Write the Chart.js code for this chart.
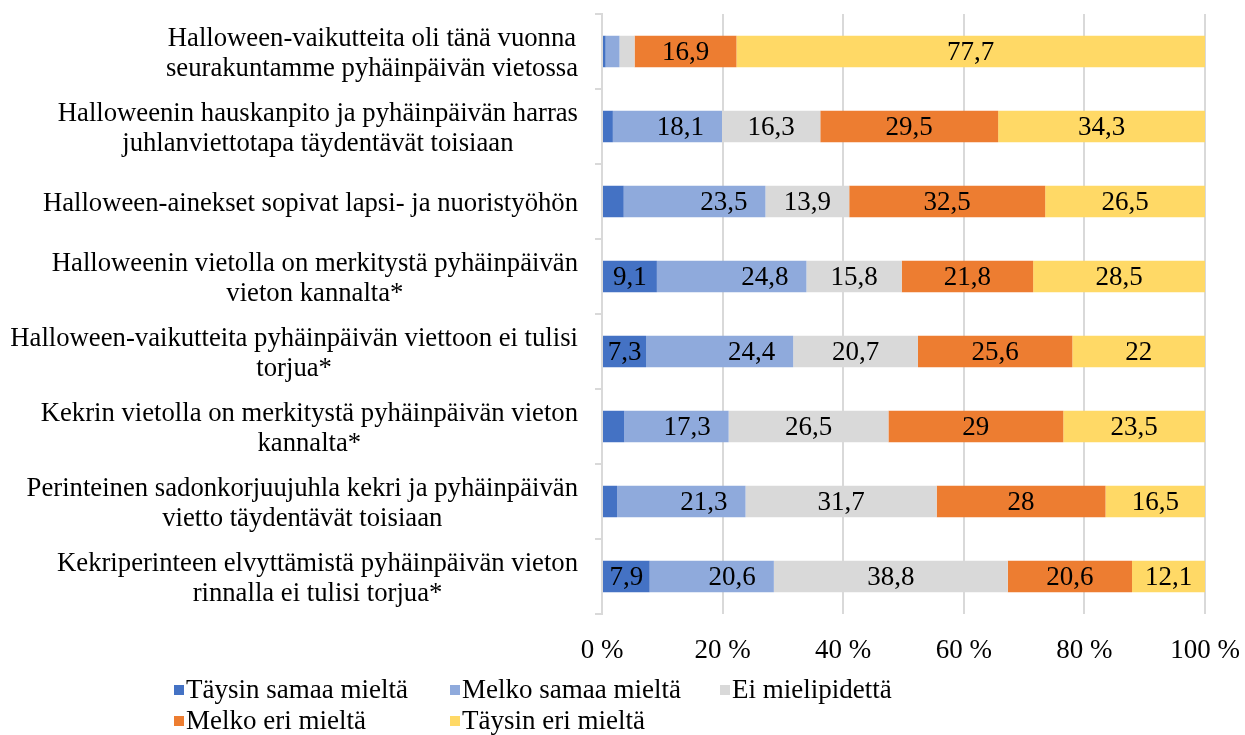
<!DOCTYPE html>
<html><head><meta charset="utf-8">
<script src="https://cdn.jsdelivr.net/npm/chart.js@4/dist/chart.umd.min.js"></script>
<style>html,body{margin:0;padding:0;background:#fff;}#wrap{width:1245px;height:735px;}</style>
</head><body><div id="wrap"><canvas id="c" width="1245" height="735"></canvas></div>
<script>
const categories = [
  ["Halloween-vaikutteita oli tänä vuonna", "seurakuntamme pyhäinpäivän vietossa"],
  ["Halloweenin hauskanpito ja pyhäinpäivän harras", "juhlanviettotapa täydentävät toisiaan"],
  ["Halloween-ainekset sopivat lapsi- ja nuoristyöhön"],
  ["Halloweenin vietolla on merkitystä pyhäinpäivän", "vieton kannalta*"],
  ["Halloween-vaikutteita pyhäinpäivän viettoon ei tulisi", "torjua*"],
  ["Kekrin vietolla on merkitystä pyhäinpäivän vieton", "kannalta*"],
  ["Perinteinen sadonkorjuujuhla kekri ja pyhäinpäivän", "vietto täydentävät toisiaan"],
  ["Kekriperinteen elvyttämistä pyhäinpäivän vieton", "rinnalla ei tulisi torjua*"]
];
const seriesNames = ["Täysin samaa mieltä", "Melko samaa mieltä", "Ei mielipidettä", "Melko eri mieltä", "Täysin eri mieltä"];
const taysinSamaa   = [0.6, 1.8, 3.6, 9.1, 7.3, 3.7, 2.5, 7.9];
const melkoSamaa    = [2.3, 18.1, 23.5, 24.8, 24.4, 17.3, 21.3, 20.6];
const eiMielipidetta = [2.5, 16.3, 13.9, 15.8, 20.7, 26.5, 31.7, 38.8];
const melkoEri      = [16.9, 29.5, 32.5, 21.8, 25.6, 29, 28, 20.6];
const taysinEri     = [77.7, 34.3, 26.5, 28.5, 22, 23.5, 16.5, 12.1];
const xTicks = [0, 20, 40, 60, 80, 100];

const colors = ['#4472C4', '#8FAADC', '#D9D9D9', '#ED7D31', '#FFD966'];
const FONT = '"Liberation Serif", "Times New Roman", serif';
const seriesValues = [taysinSamaa, melkoSamaa, eiMielipidetta, melkoEri, taysinEri];

const datasets = seriesValues.map((vals, i) => ({
  label: seriesNames[i],
  data: vals,
  backgroundColor: colors[i],
  borderWidth: 0,
  barPercentage: 0.42,
  categoryPercentage: 1,
  labelMin: 5,
  labelAnchor: i === 1 ? 'end' : 'center',
  labelInset: 18
}));

const valueLabels = {
  id: 'valueLabels',
  afterDatasetsDraw(chart) {
    const ctx = chart.ctx;
    ctx.save();
    ctx.font = '27px ' + FONT;
    ctx.fillStyle = '#000';
    ctx.textBaseline = 'middle';
    chart.data.datasets.forEach((ds, di) => {
      const meta = chart.getDatasetMeta(di);
      meta.data.forEach((bar, i) => {
        const v = ds.data[i];
        if (v < ds.labelMin) return;
        const txt = String(v).replace('.', ',');
        if (ds.labelAnchor === 'end') {
          ctx.textAlign = 'right';
          ctx.fillText(txt, bar.x - ds.labelInset, bar.y + 1);
        } else {
          ctx.textAlign = 'center';
          ctx.fillText(txt, (bar.x + bar.base) / 2, bar.y + 1);
        }
      });
    });
    ctx.restore();
  }
};

const catLabels = {
  id: 'catLabels',
  afterDraw(chart) {
    const ys = chart.scales.y, ctx = chart.ctx;
    ctx.save();
    ctx.font = '26.7px ' + FONT;
    ctx.fillStyle = '#000';
    ctx.textBaseline = 'middle';
    ctx.textAlign = 'center';
    const right = chart.chartArea.left - 24, lh = 30;
    chart.data.labels.forEach((lines, i) => {
      const py = ys.getPixelForValue(i) + 2;
      const w = Math.max(...lines.map(l => ctx.measureText(l).width));
      const cx = right - w / 2;
      lines.forEach((l, j) => ctx.fillText(l, cx, py + (j - (lines.length - 1) / 2) * lh));
    });
    ctx.restore();
  }
};

const customLegend = {
  id: 'customLegend',
  afterDraw(chart) {
    const ctx = chart.ctx;
    const cols = [174, 450, 720], rows = [690, 721];
    ctx.save();
    ctx.font = '27px ' + FONT;
    ctx.textBaseline = 'middle';
    ctx.textAlign = 'left';
    chart.data.datasets.forEach((ds, i) => {
      const x = cols[i % 3], y = rows[Math.floor(i / 3)];
      ctx.fillStyle = ds.backgroundColor;
      ctx.fillRect(x, y - 5, 10, 10);
      ctx.fillStyle = '#000';
      ctx.fillText(ds.label, x + 12, y + 1);
    });
    ctx.restore();
  }
};

new Chart(document.getElementById('c'), {
  type: 'bar',
  data: { labels: categories, datasets },
  options: {
    indexAxis: 'y',
    responsive: false,
    animation: false,
    layout: { padding: { top: 14, right: 40, bottom: 71, left: 0 } },
    plugins: { legend: { display: false }, tooltip: { enabled: false } },
    scales: {
      x: {
        stacked: true, min: 0, max: 100,
        afterBuildTicks: s => { s.ticks = xTicks.map(v => ({ value: v })); },
        afterFit: s => { s.height = 50; s.paddingLeft = 0; s.paddingRight = 0; },
        grid: { color: '#D9D9D9', lineWidth: 2, drawTicks: false },
        border: { display: false },
        ticks: { color: '#000', font: { family: FONT, size: 27 }, padding: 21, callback: v => v + ' %' }
      },
      y: {
        stacked: true,
        afterFit: s => { s.width = 602; },
        grid: { offset: true, drawOnChartArea: false, drawTicks: true, tickLength: 7, color: '#D9D9D9', lineWidth: 2 },
        border: { display: true, color: '#D9D9D9', width: 2 },
        ticks: { display: false }
      }
    }
  },
  plugins: [valueLabels, catLabels, customLegend]
});
</script></body></html>
